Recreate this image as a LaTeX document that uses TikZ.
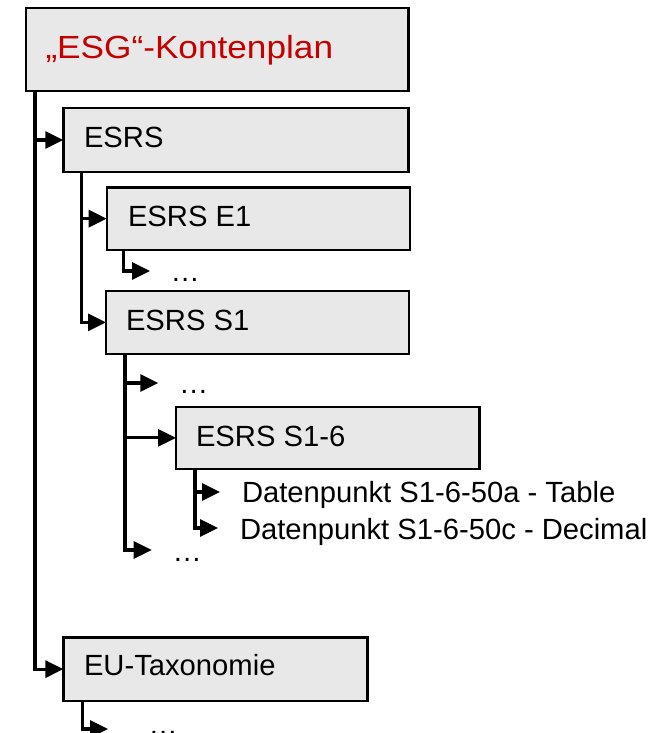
\documentclass[tikz,border=0pt]{standalone}
\usepackage{fontspec}
\setmainfont{Liberation Sans}
\usetikzlibrary{arrows.meta,calc}
\definecolor{boxgray}{RGB}{232,232,232}
\definecolor{esgred}{RGB}{196,0,0}
\begin{document}
\begin{tikzpicture}[x=1pt,y=-1pt,
  box/.style={draw=black,fill=boxgray,line width=2.4pt,inner sep=0pt,outer sep=0pt,anchor=north west},
  txt/.style={inner sep=0pt,outer sep=0pt,anchor=base west,font=\fontsize{29.2}{35}\selectfont},
  conn/.style={line width=3.2pt,-{Triangle[length=18pt,width=17pt]}}]
\useasboundingbox (0,0) rectangle (668,733);
\clip (0,0) rectangle (668,733);
% boxes
\node[box,minimum width=382.5pt,minimum height=83pt] (root) at (26,8) {};
\node[box,minimum width=345.2pt,minimum height=63.4pt] (esrs) at (63.3,108.3) {};
\node[box,minimum width=303.3pt,minimum height=62.7pt] (e1) at (106.7,187.3) {};
\node[box,minimum width=303pt,minimum height=63.3pt] (s1) at (106,290.7) {};
\node[box,minimum width=303.5pt,minimum height=62.3pt] (s16) at (176,406.7) {};
\node[box,minimum width=304pt,minimum height=63.7pt] (eu) at (63.3,637.3) {};
% texts
\node[txt,text=esgred,font=\fontsize{32}{37}\selectfont] (rootT) at (45.5,58.3) {\scalebox{1.1}[1]{„ESG“-Kontenplan}};
\node[txt] (esrsT) at (84,147) {ESRS};
\node[txt] (e1T) at (128,226) {ESRS E1};
\node[txt] (e1more) at (170.7,281) {…};
\node[txt] (s1T) at (126,330) {ESRS S1};
\node[txt] (s1more) at (179,393) {…};
\node[txt] (s16T) at (196,446) {ESRS S1-6};
\node[txt] (dpa) at (242,502.7) {Datenpunkt S1-6-50a - Table};
\node[txt] (dpc) at (240,539.3) {Datenpunkt S1-6-50c - Decimal};
\node[txt] (s1more2) at (172.7,561.7) {…};
\node[txt] (euT) at (84,675) {EU-Taxonomie};
\node[txt] (eumore) at (148.5,734.5) {…};
% free arrow ends
\coordinate (e1arr) at (150,271);
\coordinate (s1arr1) at (158.3,383);
\coordinate (s1arr2) at (151.7,550);
\coordinate (dparr) at (220,492);
\coordinate (dcarr) at (218,528);
\coordinate (euarr) at (108,729);
% connectors
\draw[conn] ($(root.south west)+(9,0)$) |- (esrs.west);
\draw[conn] ($(root.south west)+(9,0)$) |- (eu.west);
\draw[conn] ($(esrs.south west)+(18.5,0)$) |- (e1.west);
\draw[conn] ($(esrs.south west)+(18.5,0)$) |- (s1.west);
\draw[conn] ($(e1.south west)+(16.6,0)$) |- (e1arr);
\draw[conn] ($(s1.south west)+(19,0)$) |- (s1arr1);
\draw[conn] ($(s1.south west)+(19,0)$) |- (s16.west);
\draw[conn] ($(s1.south west)+(19,0)$) |- (s1arr2);
\draw[conn] ($(s16.south west)+(19,0)$) |- (dparr);
\draw[conn] ($(s16.south west)+(19,0)$) |- (dcarr);
\draw[conn] ($(eu.south west)+(19.4,0)$) |- (euarr);
\end{tikzpicture}
\end{document}
